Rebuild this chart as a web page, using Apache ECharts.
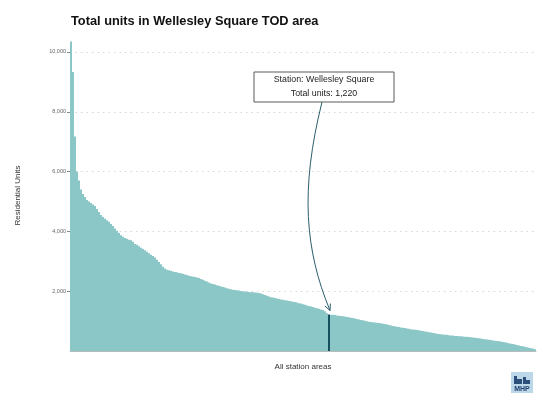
<!DOCTYPE html>
<html>
<head>
<meta charset="utf-8">
<script src="https://cdn.jsdelivr.net/npm/echarts@6/dist/echarts.min.js"></script>
<style>
  html, body { margin: 0; padding: 0; background: #fff; }
  #chart { width: 537px; height: 398px; }
</style>
</head>
<body>
<div id="chart"></div>
<script>
// Total residential units per station area, sorted high to low
const unitValues = [
  10350, 9330, 7170, 6000, 5700, 5400, 5250, 5150, 5050, 5000,
  4950, 4900, 4850, 4750, 4650, 4550, 4480, 4420, 4370, 4320,
  4250, 4180, 4100, 4020, 3950, 3870, 3820, 3780, 3750, 3720,
  3700, 3650, 3580, 3550, 3500, 3450, 3410, 3370, 3320, 3270,
  3220, 3180, 3130, 3050, 2980, 2900, 2820, 2760, 2720, 2700,
  2680, 2660, 2640, 2630, 2610, 2600, 2580, 2560, 2540, 2520,
  2500, 2490, 2475, 2460, 2440, 2410, 2380, 2350, 2320, 2290,
  2260, 2240, 2220, 2200, 2180, 2160, 2140, 2120, 2100, 2080,
  2065, 2050, 2040, 2030, 2020, 2010, 2000, 1990, 1980, 1975,
  1968, 1962, 1955, 1948, 1940, 1925, 1900, 1870, 1845, 1820,
  1800, 1785, 1770, 1755, 1740, 1725, 1710, 1700, 1690, 1675,
  1665, 1650, 1635, 1620, 1600, 1585, 1565, 1545, 1525, 1505,
  1490, 1470, 1450, 1430, 1410, 1390, 1370, 1330, 1260, 1220,
  1215, 1210, 1200, 1190, 1180, 1170, 1160, 1150, 1140, 1130,
  1115, 1100, 1085, 1070, 1055, 1040, 1025, 1010, 995, 980,
  970, 960, 950, 945, 935, 925, 915, 900, 885, 870,
  855, 840, 825, 810, 800, 790, 780, 765, 755, 740,
  730, 720, 710, 700, 690, 675, 665, 655, 645, 630,
  620, 605, 595, 580, 570, 560, 555, 545, 540, 530,
  520, 515, 505, 500, 495, 490, 485, 480, 475, 470,
  460, 455, 445, 435, 425, 415, 405, 395, 385, 375,
  365, 355, 345, 335, 325, 315, 305, 290, 275, 260,
  245, 230, 215, 200, 185, 170, 155, 140, 125, 110,
  95, 80, 60
];
const highlightIndex = 129;
const highlightStation = 'Wellesley Square';
const yTickValues = [2000, 4000, 6000, 8000, 10000];
const stationIds = unitValues.map((_, i) => 'S' + (i + 1));

const FILL = '#8cc7c8';
const DARK = '#17505c';
const FONT = '"Liberation Sans", Arial, sans-serif';

const chart = echarts.init(document.getElementById('chart'), null, { renderer: 'canvas' });

const seriesData = unitValues.map((v, i) =>
  i === highlightIndex ? { value: v, itemStyle: { color: DARK } } : v
);

chart.setOption({
  animation: false,
  backgroundColor: '#fff',
  title: {
    text: 'Total units in Wellesley Square TOD area',
    left: 66, top: 10,
    textStyle: { fontFamily: FONT, fontSize: 12.8, fontWeight: 'bold', color: '#111' }
  },
  grid: { left: 70, right: 1, top: 40, bottom: 47, containLabel: false },
  xAxis: {
    type: 'category',
    data: stationIds,
    name: 'All station areas',
    nameLocation: 'middle',
    nameGap: 12,
    nameTextStyle: { fontFamily: FONT, fontSize: 8, color: '#333' },
    axisLine: { show: true, lineStyle: { color: '#b9bcbc', width: 1 } },
    axisTick: { show: false },
    axisLabel: { show: false },
    splitLine: { show: false }
  },
  yAxis: {
    type: 'value',
    min: 0, max: 10400, interval: 2000,
    name: 'Residential Units',
    nameLocation: 'middle',
    nameGap: 48,
    nameRotate: 90,
    nameTextStyle: { fontFamily: FONT, fontSize: 8, color: '#333' },
    axisLine: { show: false },
    axisTick: { show: true, length: 3, customValues: yTickValues, lineStyle: { color: '#888' } },
    axisLabel: {
      customValues: yTickValues,
      margin: 4,
      fontFamily: FONT, fontSize: 5.5, color: '#666',
      formatter: v => v.toLocaleString('en-US')
    },
    splitLine: { show: true, lineStyle: { color: '#d6d6d6', width: 1, type: [1.5, 4] } }
  },
  series: [{
    type: 'bar',
    data: seriesData,
    barCategoryGap: '0%',
    barGap: '0%',
    itemStyle: { color: FILL },
    emphasis: { disabled: true },
    z: 2
  }]
});

// Annotation callout and curved arrow pointing at the highlighted station
function drawAnnotation() {
  const hv = unitValues[highlightIndex];
  const tip = chart.convertToPixel({ gridIndex: 0 }, [highlightIndex, hv]);
  const end = [tip[0] + 1, tip[1] - 4];
  const boxW = 140, boxH = 30;
  const boxX = end[0] - 76, boxY = 72;
  const start = [end[0] - 8, boxY + boxH];
  const cp1 = [end[0] - 30, 190];
  const cp2 = [end[0] - 25, 250];
  const dx = end[0] - cp2[0], dy = end[1] - cp2[1];
  const len = Math.hypot(dx, dy);
  const ux = dx / len, uy = dy / len;
  const head = 7, ang = 0.45;
  const rot = (a) => [
    end[0] - head * (ux * Math.cos(a) - uy * Math.sin(a)),
    end[1] - head * (ux * Math.sin(a) + uy * Math.cos(a))
  ];
  const h1 = rot(ang), h2 = rot(-ang);

  chart.setOption({
    graphic: [
      {
        type: 'bezierCurve',
        shape: { x1: start[0], y1: start[1], cpx1: cp1[0], cpy1: cp1[1], cpx2: cp2[0], cpy2: cp2[1], x2: end[0], y2: end[1] },
        style: { stroke: '#2b5e6c', lineWidth: 1, fill: null },
        z: 20
      },
      {
        type: 'polyline',
        shape: { points: [h1, end, h2] },
        style: { stroke: '#2b5e6c', lineWidth: 1, fill: null },
        z: 20
      },
      {
        type: 'rect',
        shape: { x: boxX, y: boxY, width: boxW, height: boxH },
        style: { fill: '#fff', stroke: '#5a5a5a', lineWidth: 1 },
        z: 21
      },
      {
        type: 'text',
        x: boxX + boxW / 2, y: boxY + 8,
        style: {
          text: 'Station: ' + highlightStation,
          fontFamily: FONT, fontSize: 8.8, fill: '#222',
          align: 'center', verticalAlign: 'middle'
        },
        z: 22
      },
      {
        type: 'text',
        x: boxX + boxW / 2, y: boxY + 22,
        style: {
          text: 'Total units: ' + hv.toLocaleString('en-US'),
          fontFamily: FONT, fontSize: 8.8, fill: '#222',
          align: 'center', verticalAlign: 'middle'
        },
        z: 22
      },
      // MHP logo mark
      {
        type: 'group',
        right: 4, bottom: 5,
        children: [
          { type: 'rect', shape: { x: 0, y: 0, width: 22, height: 21 }, style: { fill: '#bcd7e8' } },
          { type: 'rect', shape: { x: 3, y: 4, width: 3, height: 8 }, style: { fill: '#2b4f7a' } },
          { type: 'rect', shape: { x: 6, y: 7, width: 5, height: 5 }, style: { fill: '#2b4f7a' } },
          { type: 'rect', shape: { x: 12, y: 5, width: 3, height: 7 }, style: { fill: '#2b4f7a' } },
          { type: 'rect', shape: { x: 15, y: 8, width: 4, height: 4 }, style: { fill: '#2b4f7a' } },
          {
            type: 'text', x: 11, y: 17,
            style: { text: 'MHP', fontFamily: FONT, fontSize: 7, fontWeight: 'bold', fill: '#1f3f6c', align: 'center', verticalAlign: 'middle' }
          }
        ]
      }
    ]
  });
}
drawAnnotation();
</script>
</body>
</html>
